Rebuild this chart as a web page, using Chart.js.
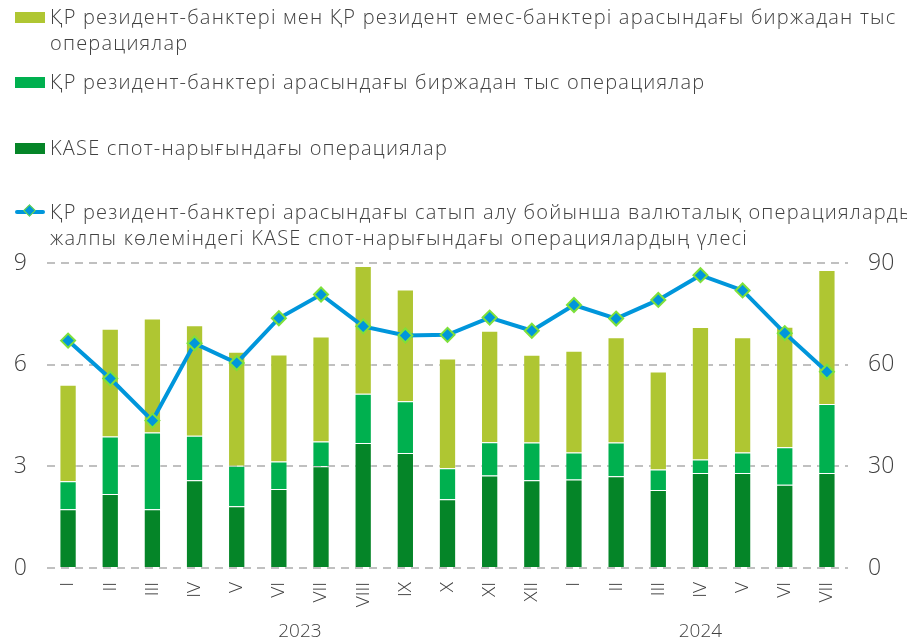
<!DOCTYPE html>
<html>
<head>
<meta charset="utf-8">
<script src="https://cdn.jsdelivr.net/npm/chart.js@4"></script>
<style>
    body { margin: 0; background: #fff; }
    #wrap { position: relative; width: 907px; height: 643px; overflow: hidden; }
    #chart { position: absolute; left: 0; top: 0; }
    .legend-item { position: absolute; left: 50px; font-family: "Open Sans", sans-serif; font-weight: 300;
        font-size: 20px; letter-spacing: 1.2px; line-height: 26px; color: #404040; white-space: nowrap; }
    .legend-box { position: absolute; left: 15px; width: 30px; height: 11px; }
    .legend-line { position: absolute; left: 15px; width: 30px; height: 4px; background: #0096db; border-radius: 2px; }
    .legend-diamond { position: absolute; left: 25px; width: 7px; height: 7px; background: #0096db;
        border: 1.5px solid #7ee03a; transform: rotate(45deg); }
</style>
</head>
<body>
<div id="wrap">
    <canvas id="chart" width="907" height="643"></canvas>
    <div class="legend-box" style="top:12px;background:#afc632"></div>
    <div class="legend-item" style="top:4px">ҚР резидент-банктері мен ҚР резидент емес-банктері арасындағы биржадан тыс<br>операциялар</div>
    <div class="legend-box" style="top:77px;background:#00b04f"></div>
    <div class="legend-item" style="top:69px">ҚР резидент-банктері арасындағы биржадан тыс операциялар</div>
    <div class="legend-box" style="top:143px;background:#058528"></div>
    <div class="legend-item" style="top:135px">KASE спот-нарығындағы операциялар</div>
    <div class="legend-line" style="top:210px"></div>
    <div class="legend-diamond" style="top:206px"></div>
    <div class="legend-item" style="top:199px">ҚР резидент-банктері арасындағы сатып алу бойынша валюталық операциялардың<br>жалпы көлеміндегі KASE спот-нарығындағы операциялардың үлесі</div>
</div>
<script>
// Months, grouped by year
const months = ['I', 'II', 'III', 'IV', 'V', 'VI', 'VII', 'VIII', 'IX', 'X', 'XI', 'XII',
                'I', 'II', 'III', 'IV', 'V', 'VI', 'VII'];
const years = ['2023', '2024'];
const yearFirst = [0, 12];
const yearLast = [11, 18];

// Volumes, bln USD
const kaseSpot = [1.73, 2.18, 1.73, 2.59, 1.82, 2.33, 3.00, 3.69, 3.39, 2.03, 2.73, 2.59,
                  2.61, 2.71, 2.30, 2.80, 2.80, 2.46, 2.80];
const otcResidents = [0.83, 1.70, 2.27, 1.31, 1.20, 0.81, 0.73, 1.45, 1.53, 0.91, 0.98, 1.11,
                      0.80, 0.99, 0.61, 0.40, 0.61, 1.10, 2.04];
const otcNonResidents = [2.85, 3.18, 3.36, 3.26, 3.36, 3.16, 3.10, 3.77, 3.30, 3.24, 3.29, 2.59,
                         3.00, 3.11, 2.89, 3.91, 3.40, 3.56, 3.95];

// KASE share, %
const kaseShare = [67.1, 55.9, 43.5, 66.3, 60.5, 73.7, 80.7, 71.3, 68.6, 68.8, 73.9, 70.0,
                   77.6, 73.6, 79.1, 86.4, 81.9, 69.3, 57.9];

const leftTicks = [0, 3, 6, 9];
const rightTicks = [0, 30, 60, 90];

const FONT = '"Open Sans", sans-serif';
const TEXT = '#404040';

// Year captions under the month labels
const yearLabels = {
    id: 'yearLabels',
    afterDraw(chart) {
        const ctx = chart.ctx;
        const x = chart.scales.x;
        ctx.save();
        ctx.font = '300 19px ' + FONT;
        ctx.fillStyle = TEXT;
        ctx.textAlign = 'center';
        ctx.textBaseline = 'middle';
        years.forEach((y, i) => {
            const cx = (x.getPixelForValue(yearFirst[i]) + x.getPixelForValue(yearLast[i])) / 2;
            ctx.fillText(y, cx, 632);
        });
        ctx.restore();
    }
};

function barSet(label, data, color) {
    return {
        type: 'bar',
        label: label,
        data: data,
        backgroundColor: color,
        borderColor: 'rgba(255,255,255,0.35)',
        borderWidth: 1,
        yAxisID: 'y',
        stack: 'vol',
        order: 1,
        categoryPercentage: 1,
        barPercentage: 0.41
    };
}

const ctx = document.getElementById('chart').getContext('2d');
new Chart(ctx, {
    data: {
        labels: months,
        datasets: [
            {
                type: 'line',
                label: 'share',
                data: kaseShare,
                yAxisID: 'y2',
                borderColor: '#0096db',
                borderWidth: 4,
                pointStyle: 'rectRot',
                pointRadius: 7,
                pointBackgroundColor: '#0096db',
                pointBorderColor: '#7ee03a',
                pointBorderWidth: 2,
                tension: 0,
                order: 0
            },
            barSet('kase', kaseSpot, '#058528'),
            barSet('otc', otcResidents, '#00b04f'),
            barSet('otcNon', otcNonResidents, '#afc632')
        ]
    },
    plugins: [yearLabels],
    options: {
        responsive: false,
        animation: false,
        layout: { padding: { top: 263, left: 0, right: 0, bottom: 0 } },
        plugins: { legend: { display: false }, tooltip: { enabled: false } },
        scales: {
            x: {
                stacked: true,
                grid: { display: false },
                border: { display: false },
                afterFit(s) { s.height = 75; },
                ticks: {
                    autoSkip: false,
                    minRotation: 90,
                    maxRotation: 90,
                    padding: 6,
                    color: TEXT,
                    font: { family: FONT, size: 19, weight: 300 }
                }
            },
            y: {
                position: 'left',
                stacked: true,
                min: 0,
                max: 9,
                afterFit(s) { s.width = 47; },
                afterBuildTicks(s) { s.ticks = leftTicks.map(v => ({ value: v })); },
                grid: { color: '#c0c0c0', lineWidth: 2, drawTicks: false },
                border: { display: false, dash: [8, 6] },
                ticks: { padding: 20, color: TEXT, font: { family: FONT, size: 23, weight: 300 } }
            },
            y2: {
                position: 'right',
                min: 0,
                max: 90,
                afterFit(s) { s.width = 59; },
                afterBuildTicks(s) { s.ticks = rightTicks.map(v => ({ value: v })); },
                grid: { display: false, drawTicks: false },
                border: { display: false },
                ticks: { padding: 20, color: TEXT, font: { family: FONT, size: 23, weight: 300 } }
            }
        }
    }
});
</script>
</body>
</html>
